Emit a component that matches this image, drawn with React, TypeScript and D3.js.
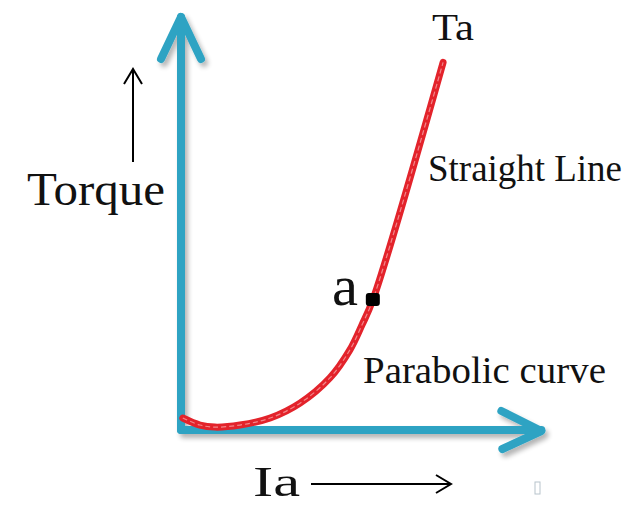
import React from "react";
import * as d3 from "d3";

// Armature current (Ia) and torque (Ta) readings along the characteristic
const iaValues = [0.05, 0.52, 0.93, 1.62, 2.45, 3.27, 4.09, 4.64, 4.97, 5.27, 7.2];
const taValues = [0.29, 0.12, 0.07, 0.12, 0.29, 0.65, 1.26, 1.94, 2.54, 3.15, 8.9];
// Knee point "a" where the parabola turns into a straight line
const kneeIa = [5.27];
const kneeTa = [3.15];

const W = 635;
const H = 505;

const x = d3.scaleLinear().domain([0, 10]).range([181, 545]);
const y = d3.scaleLinear().domain([0, 10]).range([430, 17]);

const AXIS = "#2fa3c3";
const SERIF = "'Liberation Serif', 'DejaVu Serif', serif";

export default function App() {
  const pts: [number, number][] = iaValues.map((v, i) => [v, taValues[i]]);
  const line = d3
    .line<[number, number]>()
    .x((d) => x(d[0]))
    .y((d) => y(d[1]))
    .curve(d3.curveCatmullRom.alpha(0.5));
  const path = line(pts) || "";

  const ox = x(0);
  const oy = y(0);
  const yTop = y(10);
  const xEnd = x(9.9);

  const kx = x(kneeIa[0]);
  const ky = y(kneeTa[0]);

  return (
    <svg
      width={W}
      height={H}
      style={{ position: "absolute", left: 0, top: 0, background: "#fff" }}
    >
      <defs>
        <filter id="shadow" x="-20%" y="-20%" width="140%" height="140%">
          <feGaussianBlur in="SourceAlpha" stdDeviation="2.5" />
          <feOffset dx="3" dy="4" result="b" />
          <feComponentTransfer>
            <feFuncA type="linear" slope="0.3" />
          </feComponentTransfer>
          <feMerge>
            <feMergeNode />
            <feMergeNode in="SourceGraphic" />
          </feMerge>
        </filter>
      </defs>

      {/* axes with open arrowheads */}
      <g
        filter="url(#shadow)"
        stroke={AXIS}
        strokeWidth={8}
        strokeLinecap="round"
        strokeLinejoin="round"
        fill="none"
      >
        <path d={`M${ox},${oy} L${ox},${yTop}`} />
        <path d={`M${ox - 20},${yTop + 42} L${ox},${yTop} L${ox + 20},${yTop + 42}`} />
        <path d={`M${ox},${oy} L${xEnd},${oy}`} />
        <path d={`M${xEnd - 40},${oy - 19} L${xEnd},${oy + 1} L${xEnd - 39},${oy + 19}`} />
      </g>

      {/* torque-current characteristic */}
      <path d={path} fill="none" stroke="#e3232b" strokeWidth={7} strokeLinecap="round" />
      <path d={path} fill="none" stroke="#f5a0a3" strokeWidth={1.2} strokeDasharray="5 3" opacity={0.8} />

      {/* knee point */}
      <rect x={kx - 7} y={ky - 7} width={14} height={13} rx={3} fill="#000" />

      {/* direction arrows */}
      <g stroke="#000" strokeWidth={2} fill="none">
        <path d="M133,162 L133,69" />
        <path d="M124,84 L133,69 L142,84" />
        <path d="M311,484 L451,484" />
        <path d="M436,475 L451,484 L436,493" />
      </g>

      <g fontFamily={SERIF} fill="#111">
        <text x={27} y={205} fontSize={47} textLength={138} lengthAdjust="spacingAndGlyphs">Torque</text>
        <text x={432} y={40} fontSize={38} textLength={42} lengthAdjust="spacingAndGlyphs">Ta</text>
        <text x={428} y={181} fontSize={37} textLength={194} lengthAdjust="spacingAndGlyphs">Straight Line</text>
        <text x={332} y={305} fontSize={56} textLength={26} lengthAdjust="spacingAndGlyphs">a</text>
        <text x={363} y={383} fontSize={37} textLength={243} lengthAdjust="spacingAndGlyphs">Parabolic curve</text>
        <text x={253} y={496} fontSize={43} textLength={47} lengthAdjust="spacingAndGlyphs">Ia</text>
      </g>
      <rect x={535} y={482} width={5} height={12} fill="none" stroke="#b8c4cc" strokeWidth={1} />
    </svg>
  );
}
